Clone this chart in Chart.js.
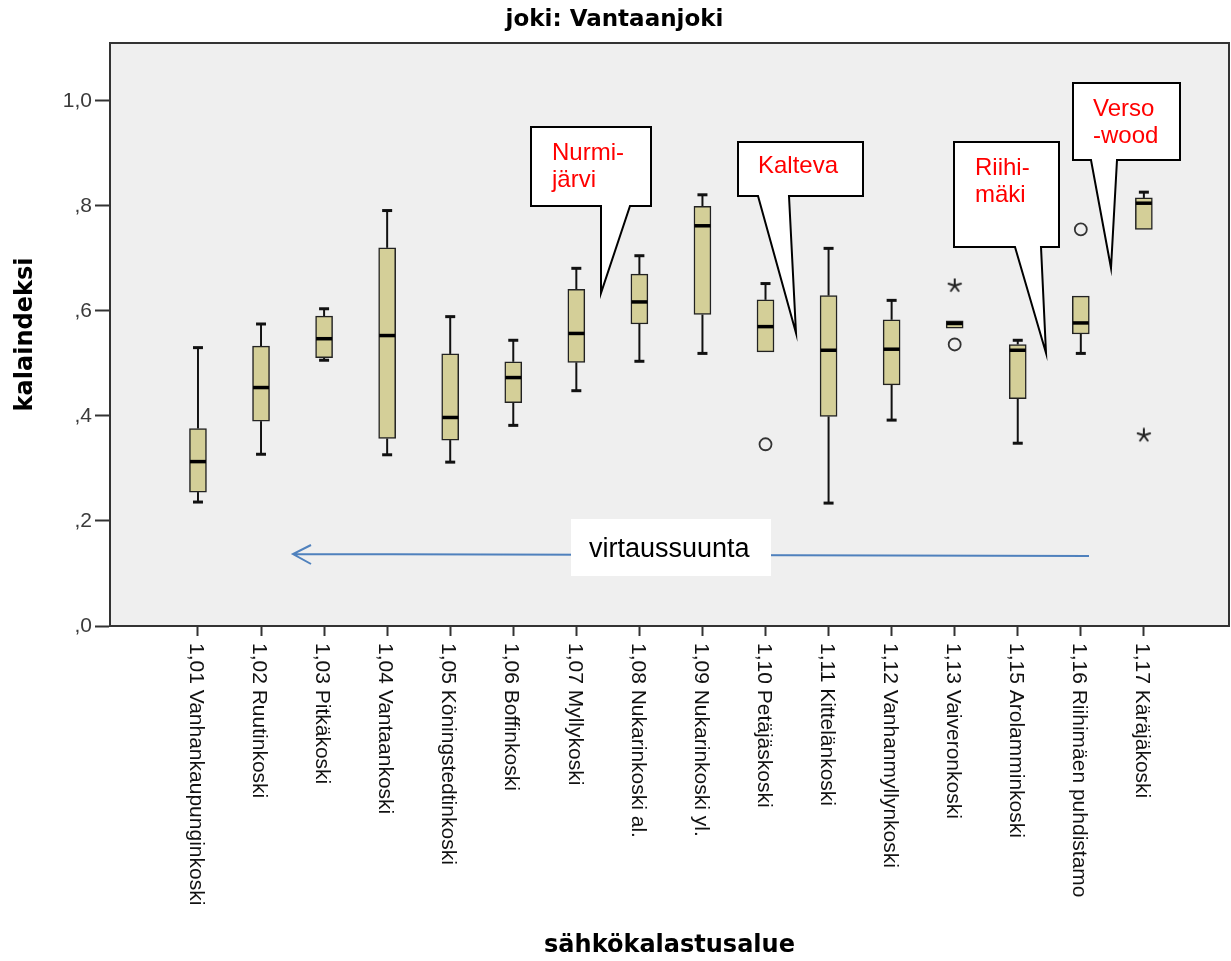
<!DOCTYPE html>
<html>
<head>
<meta charset="utf-8">
<title>joki: Vantaanjoki</title>
<script src="https://cdn.jsdelivr.net/npm/chart.js@4.4.1/dist/chart.umd.min.js"></script>
<style>
  body { margin: 0; background: #fff; }
  #wrap { width: 1231px; height: 961px; }
</style>
</head>
<body>
<div id="wrap"><canvas id="myChart" width="1231" height="961"></canvas></div>
<script>
// sähkökalastusalueet (categories)
var categories = ['1,01 Vanhankaupunginkoski', '1,02 Ruutinkoski', '1,03 Pitkäkoski', '1,04 Vantaankoski',
    '1,05 Köningstedtinkoski', '1,06 Boffinkoski', '1,07 Myllykoski', '1,08 Nukarinkoski al.',
    '1,09 Nukarinkoski yl.', '1,10 Petäjäskoski', '1,11 Kittelänkoski', '1,12 Vanhanmyllynkoski',
    '1,13 Vaiveronkoski', '1,15 Arolamminkoski', '1,16 Riihimäen puhdistamo', '1,17 Käräjäkoski'];
var xIdx = [0, 1, 2, 3, 4, 5, 6, 7, 8, 9, 10, 11, 12, 13, 14, 15];

// box plot values (kalaindeksi)
var whiskLo = [0.236, 0.327, 0.506, 0.326, 0.312, 0.382, 0.448, 0.504, 0.519, 0.522, 0.234, 0.392, 0.567, 0.348, 0.519, 0.755];
var q1      = [0.255, 0.390, 0.511, 0.357, 0.354, 0.425, 0.502, 0.575, 0.593, 0.522, 0.399, 0.459, 0.567, 0.433, 0.556, 0.755];
var median  = [0.313, 0.454, 0.547, 0.553, 0.397, 0.473, 0.557, 0.617, 0.762, 0.570, 0.525, 0.527, 0.576, 0.525, 0.577, 0.805];
var q3      = [0.376, 0.533, 0.590, 0.720, 0.518, 0.503, 0.641, 0.670, 0.799, 0.621, 0.629, 0.583, 0.581, 0.536, 0.628, 0.815];
var whiskHi = [0.530, 0.575, 0.604, 0.791, 0.589, 0.544, 0.681, 0.705, 0.821, 0.652, 0.719, 0.620, 0.581, 0.544, 0.628, 0.826];

// outliers (o) and extremes (*)
var circleX = [9, 12, 14];
var circleY = [0.346, 0.536, 0.755];
var starX = [12, 15];
var starY = [0.648, 0.363];

// y axis ticks
var yTickVals = [0, 0.2, 0.4, 0.6, 0.8, 1.0];
var yTickLabels = [',0', ',2', ',4', ',6', ',8', '1,0'];

var SANS = "'Liberation Sans', Arial, sans-serif";
var BOLD = "'DejaVu Sans', Verdana, sans-serif";

function $each(arr, fn) { for (var i = 0; i < arr.length; i++) fn(i); }

// SPSS style asterisk for extreme values
function makeStar() {
  var c = document.createElement('canvas');
  c.width = 16; c.height = 16;
  var g = c.getContext('2d');
  g.strokeStyle = '#222';
  g.lineWidth = 2;
  g.lineCap = 'round';
  g.beginPath();
  for (var k = 0; k < 5; k++) {
    var ang = -Math.PI / 2 + k * 2 * Math.PI / 5;
    g.moveTo(8, 8);
    g.lineTo(8 + 6.5 * Math.cos(ang), 8 + 6.5 * Math.sin(ang));
  }
  g.stroke();
  return c;
}

// plot background + frame
var plotBg = {
  id: 'plotBg',
  beforeDraw: function(chart) {
    var a = chart.chartArea, ctx = chart.ctx;
    ctx.save();
    ctx.fillStyle = '#efefef';
    ctx.fillRect(a.left, a.top, a.right - a.left, a.bottom - a.top);
    ctx.restore();
  },
  afterDraw: function(chart) {
    var a = chart.chartArea, ctx = chart.ctx;
    ctx.save();
    ctx.strokeStyle = '#333';
    ctx.lineWidth = 2;
    ctx.beginPath();
    ctx.moveTo(a.left, a.top);
    ctx.lineTo(a.right, a.top);
    ctx.lineTo(a.right, a.bottom);
    ctx.stroke();
    ctx.restore();
  }
};

// whiskers and medians
var boxParts = {
  id: 'boxParts',
  beforeDatasetsDraw: function(chart) {
    var ctx = chart.ctx, xs = chart.scales.x, ys = chart.scales.y;
    ctx.save();
    ctx.strokeStyle = '#111';
    $each(xIdx, function(i) {
      var px = xs.getPixelForValue(xIdx[i]);
      var pairs = [[q1[i], whiskLo[i]], [q3[i], whiskHi[i]]];
      pairs.forEach(function(p) {
        if (Math.abs(p[0] - p[1]) < 0.002) return;
        var y0 = ys.getPixelForValue(p[0]), y1 = ys.getPixelForValue(p[1]);
        ctx.lineWidth = 2;
        ctx.beginPath(); ctx.moveTo(px, y0); ctx.lineTo(px, y1); ctx.stroke();
        ctx.lineWidth = 3;
        ctx.beginPath(); ctx.moveTo(px - 5, y1); ctx.lineTo(px + 5, y1); ctx.stroke();
      });
    });
    ctx.restore();
  },
  afterDatasetsDraw: function(chart) {
    var ctx = chart.ctx, xs = chart.scales.x, ys = chart.scales.y;
    ctx.save();
    ctx.strokeStyle = '#000';
    ctx.lineWidth = 3.5;
    $each(xIdx, function(i) {
      var px = xs.getPixelForValue(xIdx[i]);
      var py = ys.getPixelForValue(median[i]);
      ctx.beginPath(); ctx.moveTo(px - 8, py); ctx.lineTo(px + 8, py); ctx.stroke();
    });
    ctx.restore();
  }
};

// rotated category labels (read top to bottom)
var xLabels = {
  id: 'xLabels',
  afterDraw: function(chart) {
    var ctx = chart.ctx, xs = chart.scales.x, a = chart.chartArea;
    ctx.save();
    ctx.font = '21px ' + SANS;
    ctx.fillStyle = '#111';
    ctx.textAlign = 'left';
    ctx.textBaseline = 'middle';
    $each(xIdx, function(i) {
      ctx.save();
      ctx.translate(xs.getPixelForValue(xIdx[i]) - 2, a.bottom + 17);
      ctx.rotate(Math.PI / 2);
      ctx.fillText(categories[i], 0, 0);
      ctx.restore();
    });
    ctx.restore();
  }
};

// hand-drawn notes: flow arrow + callouts
function callout(ctx, r, t, lines, tx, ty) {
  ctx.beginPath();
  ctx.moveTo(r[0], r[1]);
  ctx.lineTo(r[2], r[1]);
  ctx.lineTo(r[2], r[3]);
  ctx.lineTo(t[1], r[3]);
  ctx.lineTo(t[2], t[3]);
  ctx.lineTo(t[0], r[3]);
  ctx.lineTo(r[0], r[3]);
  ctx.closePath();
  ctx.fillStyle = '#fff';
  ctx.fill();
  ctx.strokeStyle = '#000';
  ctx.lineWidth = 2;
  ctx.stroke();
  ctx.fillStyle = '#ff0000';
  ctx.font = '24px ' + SANS;
  ctx.textAlign = 'left';
  ctx.textBaseline = 'alphabetic';
  lines.forEach(function(l, k) { ctx.fillText(l, tx, ty + k * 27); });
}

var notes = {
  id: 'notes',
  afterDraw: function(chart) {
    var ctx = chart.ctx;
    ctx.save();
    // virtaussuunta arrow
    ctx.strokeStyle = '#4f81bd';
    ctx.lineWidth = 2;
    ctx.beginPath();
    ctx.moveTo(1089, 556); ctx.lineTo(293, 554);
    ctx.moveTo(311, 545); ctx.lineTo(293, 554); ctx.lineTo(311, 564);
    ctx.stroke();
    ctx.fillStyle = '#fff';
    ctx.fillRect(571, 519, 200, 57);
    ctx.fillStyle = '#000';
    ctx.font = '27px ' + SANS;
    ctx.textAlign = 'left';
    ctx.fillText('virtaussuunta', 589, 557);

    callout(ctx, [531, 127, 651, 206], [601, 630, 601, 293], ['Nurmi-', 'järvi'], 552, 160);
    callout(ctx, [738, 142, 863, 196], [758, 789, 796, 333], ['Kalteva'], 758, 173);
    callout(ctx, [954, 142, 1059, 247], [1015, 1041, 1046, 353], ['Riihi-', 'mäki'], 975, 175);
    callout(ctx, [1073, 83, 1180, 160], [1091, 1117, 1111, 268], ['Verso', '-wood'], 1093, 116);
    ctx.restore();
  }
};

var boxData = xIdx.map(function(x, i) { return {x: x, y: [q1[i], q3[i]]}; });
var circleData = circleX.map(function(x, i) { return {x: x, y: circleY[i]}; });
var starData = starX.map(function(x, i) { return {x: x, y: starY[i]}; });

var ctx = document.getElementById('myChart');
var myChart = new Chart(ctx, {
  type: 'bar',
  data: {
    datasets: [{
      type: 'bar',
      data: boxData,
      backgroundColor: '#d4cf98',
      borderColor: '#222',
      borderWidth: 1.5,
      borderSkipped: false,
      barThickness: 17
    }, {
      type: 'scatter',
      data: circleData,
      pointStyle: 'circle',
      pointRadius: 6,
      pointBorderWidth: 1.8,
      pointBorderColor: '#333',
      pointBackgroundColor: 'rgba(0,0,0,0)'
    }, {
      type: 'scatter',
      data: starData,
      pointStyle: makeStar(),
      pointRadius: 7
    }]
  },
  options: {
    responsive: false,
    animation: false,
    layout: { autoPadding: false, padding: { left: 0, right: 2, top: 0, bottom: 0 } },
    plugins: {
      legend: { display: false },
      tooltip: { enabled: false },
      title: {
        display: true,
        text: 'joki: Vantaanjoki',
        color: '#000',
        font: { family: BOLD, size: 23, weight: 'bold' },
        padding: { top: 6.5, bottom: 8.9 }
      }
    },
    scales: {
      x: {
        type: 'linear',
        min: -1.395,
        max: 16.35,
        offset: false,
        afterBuildTicks: function(s) { s.ticks = xIdx.map(function(v) { return {value: v}; }); },
        afterFit: function(s) { s.height = 335; },
        ticks: { display: false },
        grid: { drawOnChartArea: false, offset: false, tickLength: 10, tickColor: '#333', tickWidth: 2 },
        border: { color: '#333', width: 2 },
        title: {
          display: true,
          text: 'sähkökalastusalue',
          color: '#000',
          font: { family: BOLD, size: 24, weight: 'bold' },
          padding: { top: 0, bottom: 1 }
        }
      },
      y: {
        min: 0,
        max: 1.11,
        afterBuildTicks: function(s) { s.ticks = yTickVals.map(function(v) { return {value: v}; }); },
        afterFit: function(s) { s.width = 110; },
        ticks: {
          callback: function(v, i) { return yTickLabels[i]; },
          font: { family: SANS, size: 21 },
          color: '#3a3a3a',
          padding: 3
        },
        grid: { drawOnChartArea: false, tickLength: 15, tickColor: '#333', tickWidth: 2 },
        border: { color: '#333', width: 2 },
        title: {
          display: true,
          text: 'kalaindeksi',
          color: '#000',
          font: { family: BOLD, size: 24, weight: 'bold' },
          padding: { top: 11, bottom: 0 }
        }
      }
    }
  },
  plugins: [plotBg, boxParts, xLabels, notes]
});
</script>
</body>
</html>
